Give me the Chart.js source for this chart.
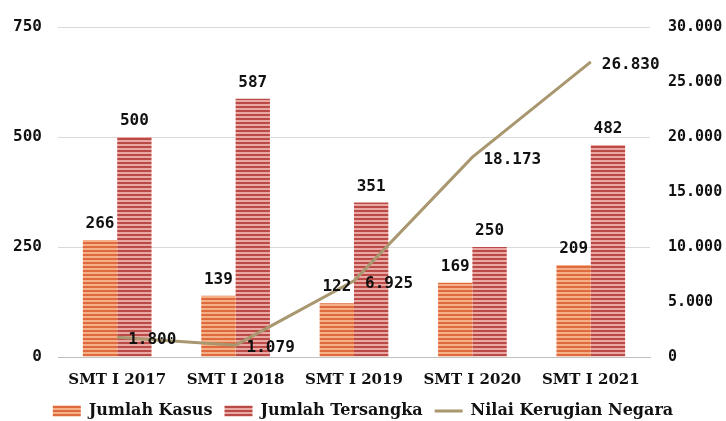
<!DOCTYPE html>
<html>
<head>
<meta charset="utf-8">
<script src="https://cdn.jsdelivr.net/npm/chart.js@4/dist/chart.umd.min.js"></script>
<style>
html,body{margin:0;padding:0;background:#fff;}
#wrap{width:726px;height:421px;}
</style>
</head>
<body>
<div id="wrap"><canvas id="c" width="726" height="421"></canvas></div>
<script>
const categories = ["SMT I 2017", "SMT I 2018", "SMT I 2019", "SMT I 2020", "SMT I 2021"];
const jumlahKasus = [266, 139, 122, 169, 209];
const jumlahTersangka = [500, 587, 351, 250, 482];
const nilaiKerugian = [1800, 1079, 6925, 18173, 26830];
const kerugianLabels = ["1.800", "1.079", "6.925", "18.173", "26.830"];
const leftTicks = [0, 250, 500, 750];
const rightTicks = [0, 5000, 10000, 15000, 20000, 25000, 30000];

function stripes(base, stripe) {
  const p = document.createElement('canvas');
  p.width = 4; p.height = 4;
  const g = p.getContext('2d');
  g.fillStyle = base; g.fillRect(0, 0, 4, 4);
  g.fillStyle = stripe; g.fillRect(0, 2, 4, 2);
  return g.createPattern(p, 'repeat');
}
const ctx = document.getElementById('c').getContext('2d');
const kasusFill = stripes('#f5b088', '#de6a3e');
const tersFill = stripes('#eaa8a4', '#b94a46');

const NUM_FONT = "bold 16px 'DejaVu Sans Mono'";

const labelPlugin = {
  id: 'labels',
  afterDatasetsDraw(chart) {
    const c = chart.ctx;
    c.save();
    c.font = NUM_FONT;
    c.fillStyle = '#111';
    [0, 1].forEach(di => {
      const meta = chart.getDatasetMeta(di);
      meta.data.forEach((el, i) => {
        c.textAlign = 'center';
        c.textBaseline = 'bottom';
        c.fillText(String(chart.data.datasets[di].data[i]), el.x, el.y - 8);
      });
    });
    const lm = chart.getDatasetMeta(2);
    lm.data.forEach((el, i) => {
      c.textAlign = 'left';
      c.textBaseline = 'middle';
      c.fillText(kerugianLabels[i], el.x + 11, el.y + 3);
    });
    c.restore();
  }
};

const legendFix = {
  id: 'legendFix',
  beforeLayout(chart) {
    const lg = chart.legend;
    if (lg && !lg._patched) {
      const f = lg.fit;
      lg.fit = function () { f.call(this); this.height = 18; };
      lg._patched = true;
    }
  },
  afterLayout(chart) {
    const lg = chart.legend;
    if (lg) { lg.top = 391; lg.bottom = 421; lg.height = 30; }
  }
};

new Chart(ctx, {
  type: 'bar',
  data: {
    labels: categories,
    datasets: [
      { label: 'Jumlah Kasus', data: jumlahKasus, backgroundColor: kasusFill, borderWidth: 0,
        yAxisID: 'y', categoryPercentage: 0.58, barPercentage: 1.0, pointStyle: 'rect', order: 2 },
      { label: 'Jumlah Tersangka', data: jumlahTersangka, backgroundColor: tersFill, borderWidth: 0,
        yAxisID: 'y', categoryPercentage: 0.58, barPercentage: 1.0, pointStyle: 'rect', order: 2 },
      { type: 'line', label: 'Nilai Kerugian Negara', data: nilaiKerugian, borderColor: '#a8976f',
        backgroundColor: '#a8976f', borderWidth: 3, pointRadius: 0, tension: 0, yAxisID: 'y1',
        pointStyle: 'line', order: 1 }
    ]
  },
  options: {
    responsive: false,
    animation: false,
    devicePixelRatio: 1,
    layout: { padding: { top: 18, left: 0, right: 0, bottom: 0 } },
    plugins: {
      legend: {
        position: 'bottom',
        labels: {
          usePointStyle: true,
          pointStyleWidth: 28,
          boxHeight: 11,
          padding: 12,
          color: '#111',
          font: { family: "'DejaVu Serif'", weight: 'bold', size: 16 },
          sort: (a, b) => a.datasetIndex - b.datasetIndex
        }
      },
      tooltip: { enabled: false }
    },
    scales: {
      x: {
        grid: { display: false, drawTicks: false, tickLength: 0 },
        border: { color: '#bfbfbf' },
        ticks: { color: '#111', font: { family: "'DejaVu Serif'", weight: 'bold', size: 15 }, padding: 14 }
      },
      y: {
        position: 'left',
        min: 0, max: 750,
        afterBuildTicks(ax) { ax.ticks = leftTicks.map(v => ({ value: v })); },
        afterFit(ax) { ax.width = 58; },
        grid: { color: '#d9d9d9', drawTicks: false },
        border: { display: false },
        ticks: { color: '#111', font: { family: "'DejaVu Sans Mono'", weight: 'bold', size: 16 }, padding: 16 }
      },
      y1: {
        position: 'right',
        min: 0, max: 30000,
        afterBuildTicks(ax) { ax.ticks = rightTicks.map(v => ({ value: v })); },
        afterFit(ax) { ax.width = 76; },
        grid: { display: false, drawTicks: false },
        border: { display: false },
        ticks: {
          color: '#111', font: { family: "'DejaVu Sans Mono'", weight: 'bold', size: 15 }, padding: 18,
          callback: v => v === 0 ? '0' : v.toLocaleString('de-DE') + ''
        }
      }
    }
  },
  plugins: [labelPlugin, legendFix]
});
</script>
</body>
</html>
